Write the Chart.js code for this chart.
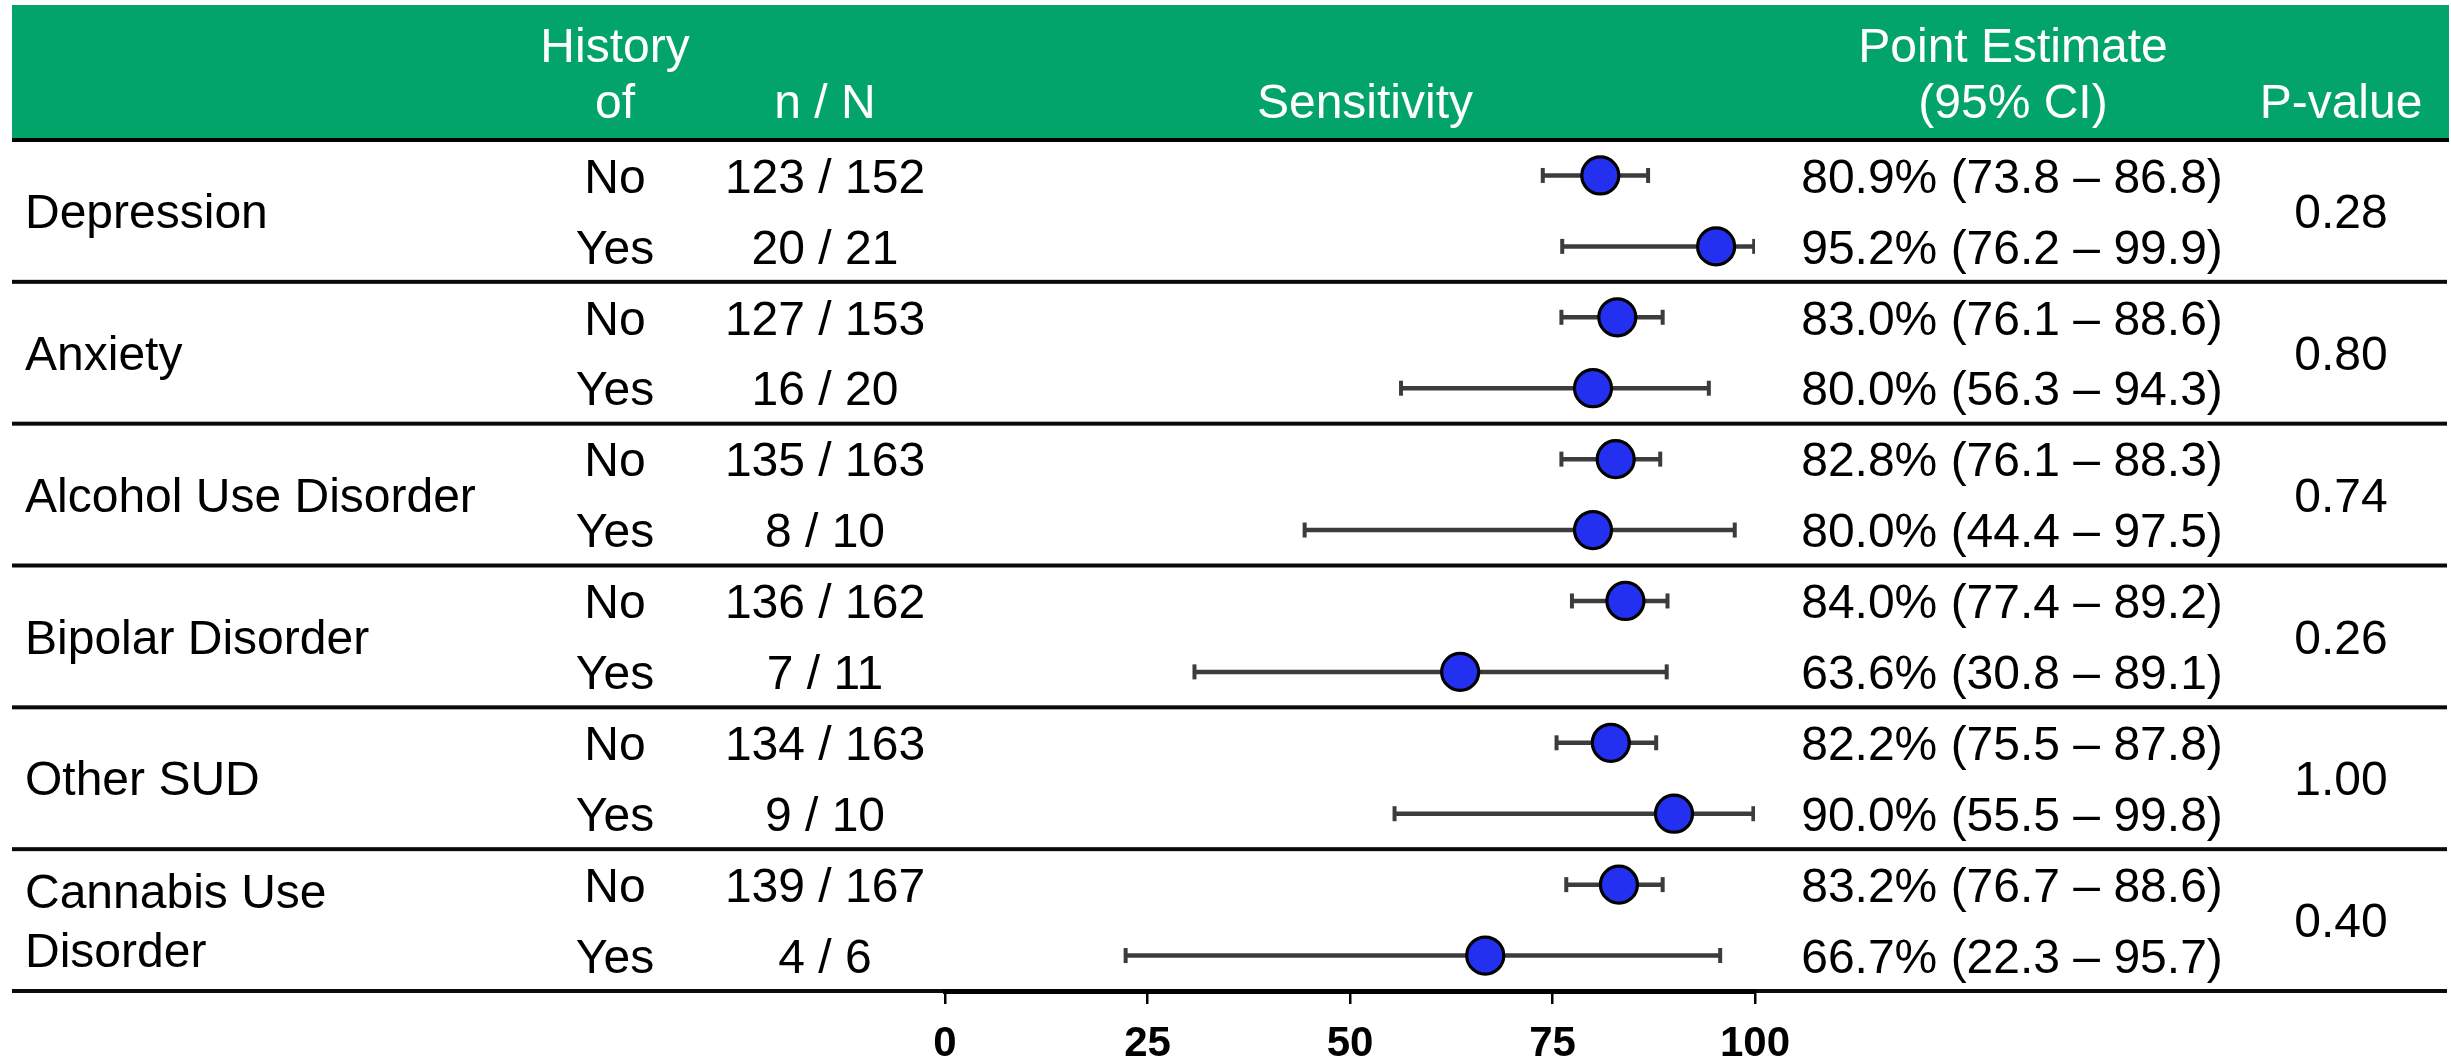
<!DOCTYPE html>
<html>
<head>
<meta charset="utf-8">
<script src="https://cdn.jsdelivr.net/npm/chart.js@4/dist/chart.umd.min.js"></script>
<style>
  html, body { margin: 0; padding: 0; background: #ffffff; }
  #wrap { width: 2451px; height: 1061px; }
</style>
</head>
<body>
<div id="wrap"><canvas id="c" width="2451" height="1061"></canvas></div>
<script>
// ---------------- DATA ----------------
const groupLabels = ["Depression", "Anxiety", "Alcohol Use Disorder", "Bipolar Disorder", "Other SUD", "Cannabis Use\nDisorder"];
const historyOf = ["No", "Yes", "No", "Yes", "No", "Yes", "No", "Yes", "No", "Yes", "No", "Yes"];
const nOverN = ["123 / 152", "20 / 21", "127 / 153", "16 / 20", "135 / 163", "8 / 10", "136 / 162", "7 / 11", "134 / 163", "9 / 10", "139 / 167", "4 / 6"];
const estimate = [80.9, 95.2, 83.0, 80.0, 82.8, 80.0, 84.0, 63.6, 82.2, 90.0, 83.2, 66.7];
const ciLower  = [73.8, 76.2, 76.1, 56.3, 76.1, 44.4, 77.4, 30.8, 75.5, 55.5, 76.7, 22.3];
const ciUpper  = [86.8, 99.9, 88.6, 94.3, 88.3, 97.5, 89.2, 89.1, 87.8, 99.8, 88.6, 95.7];
const pValues  = ["0.28", "0.80", "0.74", "0.26", "1.00", "0.40"];
const xTicks   = [0, 25, 50, 75, 100];
const headers  = { history: "History\nof", n: "n / N", sens: "Sensitivity", est: "Point Estimate\n(95% CI)", p: "P-value" };

// ---------------- STYLE ----------------
const FONT = "'Liberation Sans', Arial, Helvetica, sans-serif";
const TXT = 48;
const GREEN = "#03A469";

const estLabels = estimate.map((e, i) => `${e.toFixed(1)}% (${ciLower[i].toFixed(1)} \u2013 ${ciUpper[i].toFixed(1)})`);

const datasets = [];
datasets.push({
  type: 'scatter',
  label: 'Sensitivity',
  data: estimate.map((v, i) => ({ x: v, y: i })),
  pointRadius: 18.5,
  pointBackgroundColor: '#2430F0',
  pointBorderColor: '#000000',
  pointBorderWidth: 3.2,
  order: 0
});
estimate.forEach((v, i) => {
  datasets.push({
    type: 'line',
    label: 'CI ' + i,
    data: [{ x: ciLower[i], y: i }, { x: ciUpper[i], y: i }],
    borderColor: '#3c3c3c',
    borderWidth: 4.5,
    pointStyle: 'line',
    rotation: 90,
    pointRadius: 7.5,
    pointBorderWidth: 4,
    pointBorderColor: '#3c3c3c',
    pointBackgroundColor: '#3c3c3c',
    order: 1
  });
});

const tablePlugin = {
  id: 'tablePlugin',
  beforeDraw(chart) {
    const ctx = chart.ctx;
    const y = chart.scales.y;
    const W = chart.width;
    ctx.save();
    ctx.fillStyle = '#ffffff';
    ctx.fillRect(0, 0, W, chart.height);
    // header band
    const top = y.getPixelForValue(-0.5);
    ctx.fillStyle = GREEN;
    ctx.fillRect(12, 5, W - 14, top - 5);
    // header rule
    ctx.fillStyle = '#000000';
    ctx.fillRect(12, top - 2, W - 14, 4);
    // group separators
    ctx.fillStyle = '#0a0a0a';
    for (let g = 0; g < groupLabels.length; g++) {
      const yy = y.getPixelForValue(g * 2 + 1.5);
      ctx.fillRect(12, yy - 2, W - 16, 4);
    }
    ctx.restore();
  },
  afterDraw(chart) {
    const ctx = chart.ctx;
    const y = chart.scales.y;
    ctx.save();
    ctx.font = `${TXT}px ${FONT}`;
    ctx.textBaseline = 'middle';
    // headers
    ctx.fillStyle = '#ffffff';
    ctx.textAlign = 'center';
    const hy2 = 105, hy1 = 49;
    const drawHead = (txt, x) => {
      const lines = txt.split('\n');
      if (lines.length === 2) {
        ctx.fillText(lines[0], x, hy1);
        ctx.fillText(lines[1], x, hy2);
      } else {
        ctx.fillText(lines[0], x, hy2);
      }
    };
    drawHead(headers.history, 615);
    drawHead(headers.n, 825);
    drawHead(headers.sens, 1365);
    drawHead(headers.est, 2013);
    drawHead(headers.p, 2341);
    // rows
    ctx.fillStyle = '#000000';
    for (let i = 0; i < historyOf.length; i++) {
      const yy = y.getPixelForValue(i) + 4;
      ctx.textAlign = 'center';
      ctx.fillText(historyOf[i], 615, yy);
      ctx.fillText(nOverN[i], 825, yy);
      ctx.fillText(estLabels[i], 2012, yy);
    }
    for (let g = 0; g < groupLabels.length; g++) {
      const yc = y.getPixelForValue(g * 2 + 0.5) + 4;
      const lines = groupLabels[g].split('\n');
      ctx.textAlign = 'left';
      if (lines.length === 2) {
        ctx.fillText(lines[0], 25, yc - 29);
        ctx.fillText(lines[1], 25, yc + 30);
      } else {
        ctx.fillText(lines[0], 25, yc);
      }
      ctx.textAlign = 'center';
      ctx.fillText(pValues[g], 2341, yc);
    }
    ctx.restore();
  }
};

Chart.defaults.font.family = FONT;
new Chart(document.getElementById('c'), {
  data: { datasets },
  options: {
    responsive: false,
    maintainAspectRatio: false,
    devicePixelRatio: 1,
    animation: false,
    events: [],
    layout: { padding: { left: 945, right: 696, top: 140, bottom: 0 } },
    plugins: { legend: { display: false }, tooltip: { enabled: false } },
    scales: {
      x: {
        type: 'linear',
        min: 0, max: 100,
        afterBuildTicks: (s) => { s.ticks = xTicks.map(v => ({ value: v })); },
        afterFit: (s) => { s.height = 70; },
        ticks: { color: '#000000', font: { size: 42, weight: 'bold', family: FONT }, padding: 15, maxRotation: 0, autoSkip: false },
        grid: { drawOnChartArea: false, drawTicks: true, tickLength: 13, color: '#000000', lineWidth: 2.5 },
        border: { display: true, color: '#000000', width: 5 }
      },
      y: {
        type: 'linear',
        display: false,
        min: -0.5, max: 11.5,
        reverse: true
      }
    }
  },
  plugins: [tablePlugin]
});
</script>
</body>
</html>
